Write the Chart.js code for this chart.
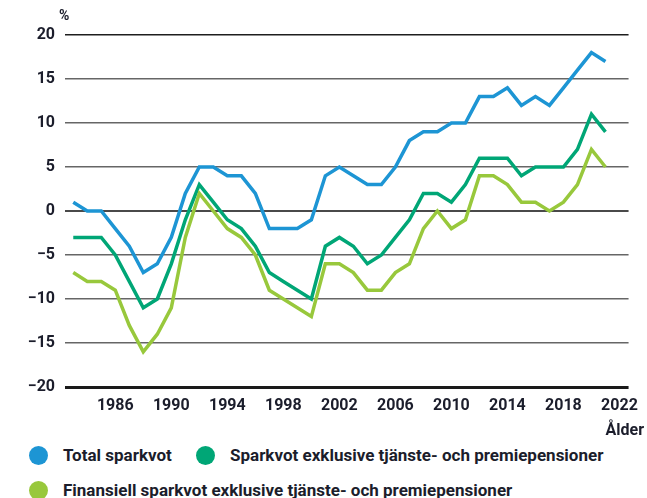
<!DOCTYPE html>
<html>
<head>
<meta charset="utf-8">
<script src="https://cdn.jsdelivr.net/npm/chart.js@4"></script>
<style>
  html, body { margin: 0; padding: 0; background: #fff; }
  body { width: 647px; height: 498px; position: relative; overflow: hidden; font-family: Roboto, "Liberation Sans", sans-serif; color: #1b1d2b; }
  #wrap { position: absolute; left: 0; top: 0; width: 647px; height: 420px; }
  .lbl { position: absolute; font-weight: 700; font-size: 16px; white-space: nowrap; }
  .leg { position: absolute; font-weight: 700; font-size: 17px; white-space: nowrap; line-height: 20px; }
  .dot { position: absolute; width: 19px; height: 19px; border-radius: 50%; }
</style>
</head>
<body>
<div id="wrap"><canvas id="c" width="647" height="420"></canvas></div>
<div class="lbl" style="left:59px; top:7px; font-size:14px;">%</div>
<div class="lbl" style="right:3px; top:420px;">Ålder</div>
<div class="dot" style="left:29px; top:446px; background:#1d95d4;"></div>
<div class="leg" style="left:63px; top:445px;">Total sparkvot</div>
<div class="dot" style="left:196px; top:446px; background:#00a676;"></div>
<div class="leg" style="left:230px; top:445px;">Sparkvot exklusive tjänste- och premiepensioner</div>
<div class="dot" style="left:29px; top:481px; background:#98c83c;"></div>
<div class="leg" style="left:63px; top:480px;">Finansiell sparkvot exklusive tjänste- och premiepensioner</div>
<script>
const years = [1983,1984,1985,1986,1987,1988,1989,1990,1991,1992,1993,1994,1995,1996,1997,1998,1999,2000,2001,2002,2003,2004,2005,2006,2007,2008,2009,2010,2011,2012,2013,2014,2015,2016,2017,2018,2019,2020,2021];
const totalSparkvot = [1,0,0,-2,-4,-7,-6,-3,2,5,5,4,4,2,-2,-2,-2,-1,4,5,4,3,3,5,8,9,9,10,10,13,13,14,12,13,12,14,16,18,17];
const sparkvotExkl = [-3,-3,-3,-5,-8,-11,-10,-6,-1,3,1,-1,-2,-4,-7,-8,-9,-10,-4,-3,-4,-6,-5,-3,-1,2,2,1,3,6,6,6,4,5,5,5,7,11,9];
const finansiellExkl = [-7,-8,-8,-9,-13,-16,-14,-11,-3,2,0,-2,-3,-5,-9,-10,-11,-12,-6,-6,-7,-9,-9,-7,-6,-2,0,-2,-1,4,4,3,1,1,0,1,3,7,5];
const xTickLabels = [1986,1990,1994,1998,2002,2006,2010,2014,2018,2022];
const yTickValues = [-20,-15,-10,-5,0,5,10,15,20];
const seriesNames = ["Total sparkvot","Sparkvot exklusive tjänste- och premiepensioner","Finansiell sparkvot exklusive tjänste- och premiepensioner"];
const seriesColors = ["#1d95d4","#00a676","#98c83c"];

const toPts = arr => arr.map((v,i) => ({x: years[i], y: v}));
const textColor = "#1b1d2b";

new Chart(document.getElementById('c'), {
  type: 'line',
  data: {
    datasets: [totalSparkvot, sparkvotExkl, finansiellExkl].map((arr, i) => ({
      label: seriesNames[i],
      data: toPts(arr),
      borderColor: seriesColors[i],
      backgroundColor: seriesColors[i],
      borderWidth: 3.5,
      pointRadius: 0,
      tension: 0,
      fill: false
    })).reverse()
  },
  options: {
    responsive: false,
    animation: false,
    layout: { padding: { top: 35, right: 11, left: 0, bottom: 0 } },
    plugins: { legend: { display: false }, tooltip: { enabled: false } },
    scales: {
      x: {
        type: 'linear',
        min: 1982.41,
        max: 2022.65,
        afterBuildTicks: s => { s.ticks = xTickLabels.map(v => ({ value: v })); },
        afterFit: s => { s.height = 33; },
        grid: { display: false, drawTicks: false },
        border: { display: false },
        ticks: {
          autoSkip: false, maxRotation: 0, padding: 9,
          color: textColor,
          font: { family: 'Roboto', weight: 'bold', size: 16 },
          callback: v => String(v)
        }
      },
      y: {
        min: -20, max: 20,
        afterBuildTicks: s => { s.ticks = yTickValues.map(v => ({ value: v })); },
        afterFit: s => { s.width = 65; },
        border: { display: false },
        grid: {
          drawTicks: false,
          color: ctx => {
            const v = ctx.tick.value;
            if (v === 20) return '#1e1e1e';
            if (v === -20) return '#1a1a1a';
            if (v === 0) return '#4a4a4a';
            return '#666666';
          },
          lineWidth: ctx => {
            const v = ctx.tick.value;
            if (v === -20) return 3;
            if (v === 0) return 2;
            return 1.5;
          }
        },
        ticks: {
          padding: 10,
          color: textColor,
          font: { family: 'Roboto', weight: 'bold', size: 16 },
          callback: v => String(v).replace('-', '\u2212')
        }
      }
    }
  }
});
</script>
</body>
</html>
